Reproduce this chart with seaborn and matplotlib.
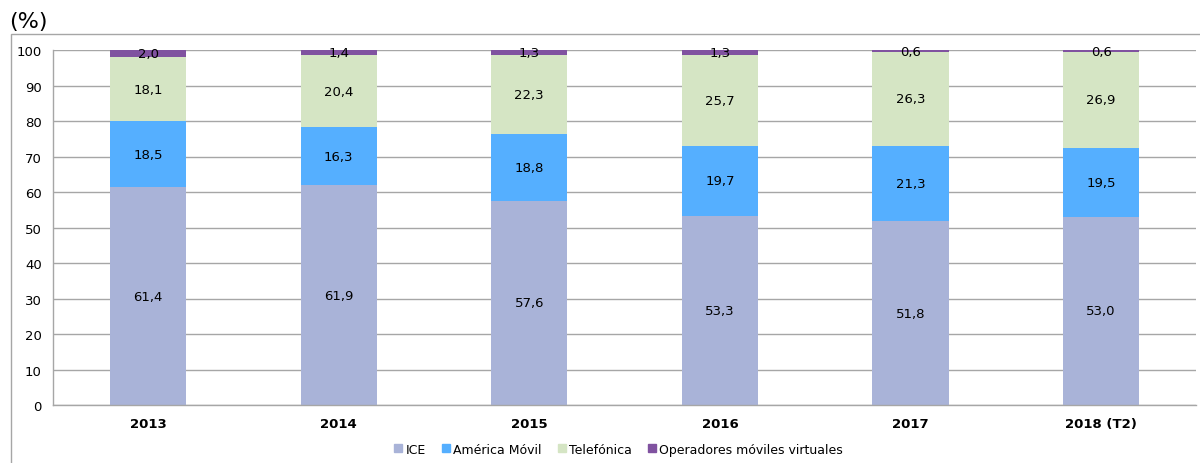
import numpy as np
import pandas as pd
import matplotlib
matplotlib.use("Agg")
import matplotlib.pyplot as plt
from matplotlib.patches import Rectangle
from matplotlib.lines import Line2D
import seaborn as sns

# Data
years = ['2013', '2014', '2015', '2016', '2017', '2018 (T2)']
ice = [61.4, 61.9, 57.6, 53.3, 51.8, 53.0]
america_movil = [18.5, 16.3, 18.8, 19.7, 21.3, 19.5]
telefonica = [18.1, 20.4, 22.3, 25.7, 26.3, 26.9]
omv = [2.0, 1.4, 1.3, 1.3, 0.6, 0.6]

series_names = ['ICE', 'América Móvil', 'Telefónica', 'Operadores móviles virtuales']
series_values = [ice, america_movil, telefonica, omv]
colors = ['#A9B3D8', '#55AFFF', '#D5E5C4', '#8052A0']

sns.set_style("white")
plt.rcParams['font.family'] = ['DejaVu Sans']
plt.rcParams['text.color'] = 'black'
plt.rcParams['xtick.labelcolor'] = 'black'
plt.rcParams['ytick.labelcolor'] = 'black'

fig = plt.figure(figsize=(12, 4.64), dpi=100)
ax = fig.add_axes([0.044, 0.125, 0.953, 0.765])

# cumulative stack, draw tallest first so smaller ones sit on top
cum = np.cumsum(np.array(series_values), axis=0)
for i in range(len(series_names) - 1, -1, -1):
    df = pd.DataFrame({'year': years, 'value': cum[i]})
    sns.barplot(data=df, x='year', y='value', color=colors[i], width=0.40,
                saturation=1, ax=ax, zorder=2, linewidth=0)

# segment labels
for i, vals in enumerate(series_values):
    for j, v in enumerate(vals):
        bottom = cum[i][j] - v
        ax.text(j, bottom + v / 2, f"{v:.1f}".replace('.', ','), ha='center', va='center',
                fontsize=9.5, color='black', zorder=3)

ax.set_xlim(-0.5, len(years) - 0.5)
ax.set_ylim(0, 100)
ax.set_yticks(range(0, 101, 10))
ax.set_xlabel('')
ax.set_ylabel('')
ax.yaxis.grid(True, color='#A6A6A6', linewidth=1)
ax.set_axisbelow(True)

ax.set_xticks(np.arange(-0.5, len(years), 1), minor=True)
ax.tick_params(axis='x', which='major', length=0, pad=9, labelsize=9.5, labelcolor='black')
ax.tick_params(axis='x', which='minor', length=5, color='#A6A6A6', width=1)
ax.tick_params(axis='y', length=5, color='#A6A6A6', width=1, labelsize=9.5, pad=3,
               labelcolor='black')
for lbl in ax.get_xticklabels():
    lbl.set_fontweight('bold')

for side in ['top', 'right']:
    ax.spines[side].set_visible(False)
for side in ['left', 'bottom']:
    ax.spines[side].set_color('#A6A6A6')
    ax.spines[side].set_linewidth(1)

# legend with small square markers
handles = [Line2D([0], [0], marker='s', linestyle='', markersize=6,
                  markerfacecolor=c, markeredgecolor=c) for c in colors]
fig.legend(handles, series_names, loc='center', bbox_to_anchor=(0.515, 0.03),
           ncol=4, frameon=False, fontsize=9, handletextpad=0.2, columnspacing=1.2,
           handlelength=0.8, labelcolor='black')

# outer frame (runs off the right and bottom edges) and unit label
fig.patches.append(Rectangle((0.009, -0.05), 1.05, 0.975, transform=fig.transFigure,
                             fill=False, edgecolor='#A6A6A6', linewidth=1))
fig.text(0.008, 0.93, '(%)', fontsize=16, ha='left', va='bottom')

fig.savefig('out.png', dpi=100)
